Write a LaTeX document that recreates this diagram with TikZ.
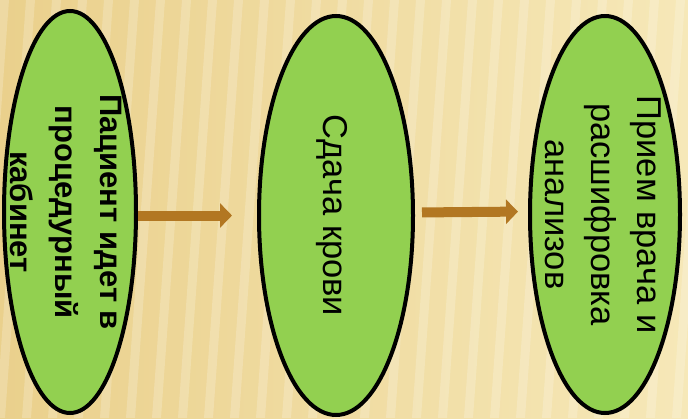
\documentclass[tikz,border=0pt]{standalone}
\usepackage{fontspec}
\setmainfont{Liberation Sans}
\usetikzlibrary{arrows.meta,shapes.geometric,positioning}
\definecolor{leafgreen}{HTML}{92D050}
\definecolor{ochre}{HTML}{B27722}
\definecolor{sandlight}{HTML}{F6E8B8}
\definecolor{sanddark}{HTML}{EAD08C}

\begin{document}
\begin{tikzpicture}[
		x=1pt, y=-1pt,
		arrow/.style={-{Triangle[length=12pt,width=24pt]}, line width=10pt, draw=ochre},
		stage/.style={ellipse, draw, line width=4pt, fill=leafgreen, inner sep=0pt},
		caption/.style={rotate=-90, align=center, inner sep=0pt, font=\fontsize{34.5}{46}\selectfont},
	]
		% background
		\useasboundingbox (0,0) rectangle (688,418);
		\begin{scope}
			\clip (0,0) rectangle (688,418);
			\fill[left color=sanddark, right color=sandlight] (0,0) rectangle (688,418);
			\foreach \i in {0,26,...,740}
				\fill[white, opacity=0.2] (\i,0) -- (\i+9,0) -- (\i-21,418) -- (\i-30,418) -- cycle;
		\end{scope}

		\node (pat) at (70,212) [stage, minimum width=132pt, minimum height=402pt] {};
		\node (blood) at (336,215.5) [stage, minimum width=154pt, minimum height=399pt] {};
		\node (doctor) at (605,214.5) [stage, minimum width=150pt, minimum height=397pt] {};

		\node (pat-text) at ([xshift=-4pt]pat.center) [caption, font=\fontsize{31}{45}\selectfont\bfseries]
			{Пациент идет в\\процедурный\\кабинет};
		\node (blood-text) at ([xshift=-4pt]blood.center) [caption] {Сдача крови};
		\node (doctor-text) at ([xshift=-2pt]doctor.center) [caption]
			{Прием врача и\\расшифровка\\анализов};

		\draw[arrow, shorten >=25pt] (pat.east |- blood.west) -- (blood.west);
		\draw[arrow, shorten <=7pt, shorten >=10pt] ([yshift=3pt]blood.east) -- ([yshift=3pt]doctor.west);
	\end{tikzpicture}
\end{document}
